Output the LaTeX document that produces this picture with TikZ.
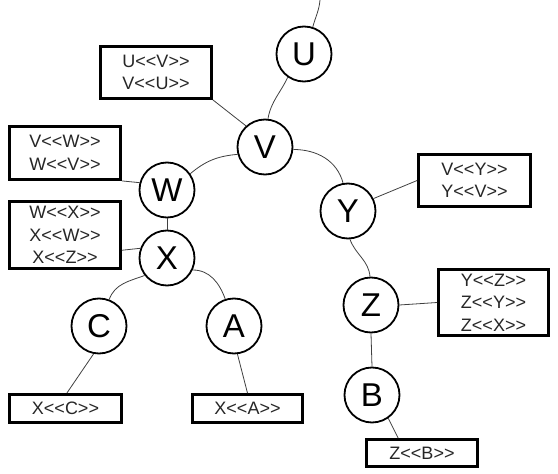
\documentclass[tikz,border=0pt]{standalone}
\usepackage{fontspec}
\setmainfont{Liberation Sans}[Ligatures=TeXOff]
\begin{document}
\begin{tikzpicture}[x=1pt,y=-1pt,
  vert/.style={circle,draw,line width=1.8pt,minimum size=55pt,inner sep=0pt,font=\fontsize{33}{33}\selectfont},
  lbl/.style={rectangle,draw,line width=2.8pt,inner sep=0pt,align=center,font=\fontsize{18}{22.5}\selectfont,text=black!85},
  conn/.style={draw=black!75,line width=0.8pt}]
\useasboundingbox (0,0) rectangle (558,474);
% vertices
\node[vert] (U) at (304,54) {U};
\node[vert] (V) at (265,147) {V};
\node[vert] (W) at (167,190) {W};
\node[vert] (X) at (167,258) {X};
\node[vert] (Y) at (348,211) {Y};
\node[vert] (Z) at (371,305) {Z};
\node[vert] (B) at (372,395) {B};
\node[vert] (C) at (99,326) {C};
\node[vert] (A) at (234,326) {A};
% labels
\node[lbl,minimum width=111pt,minimum height=52pt] (uv) at (156,72.5) {U<<V>>\\V<<U>>};
\node[lbl,minimum width=111pt,minimum height=53pt] (vw) at (65,153) {V<<W>>\\W<<V>>};
\node[lbl,minimum width=111pt,minimum height=67pt] (wx) at (65,235) {W<<X>>\\X<<W>>\\X<<Z>>};
\node[lbl,minimum width=112pt,minimum height=52pt] (vy) at (474.5,180.5) {V<<Y>>\\Y<<V>>};
\node[lbl,minimum width=110pt,minimum height=66pt] (yz) at (493.5,302.5) {Y<<Z>>\\Z<<Y>>\\Z<<X>>};
\node[lbl,minimum width=112pt,minimum height=28pt] (xc) at (65.5,408.5) {X<<C>>};
\node[lbl,minimum width=110pt,minimum height=28pt] (xa) at (247.5,408.5) {X<<A>>};
\node[lbl,minimum width=111pt,minimum height=27pt] (zb) at (422,453) {Z<<B>>};
\coordinate (top) at (320,0);
% tree edges
\draw[conn] (U.72) to[out=75,in=265] (top);
\draw[conn] (U.235) to[out=245,in=80] (V.84);
\draw[conn] (V.195) to[out=185,in=40] (W.35);
\draw[conn] (V.355) to[out=0,in=105] (Y.100);
\draw[conn] (W.south) -- (X.north);
\draw[conn] (X.218) to[out=200,in=70] (C.69);
\draw[conn] (X.335) to[out=0,in=110] (A.108);
\draw[conn] (Y.274) to[out=290,in=95] (Z.92);
\draw[conn] (Z.south) -- (B.north);
% label links
\draw[conn] (uv.south east) -- (V.132);
\draw[conn] (vw.south east) -- (W.165);
\draw[conn] (wx.-15) -- (X.160);
\draw[conn] (C.259) -- (xc.85);
\draw[conn] (A.277) -- (xa.north);
\draw[conn] (Y.26) -- (vy.west);
\draw[conn] (Z.east) -- (yz.west);
\draw[conn] (B.305) -- (zb.148);
\end{tikzpicture}
\end{document}
